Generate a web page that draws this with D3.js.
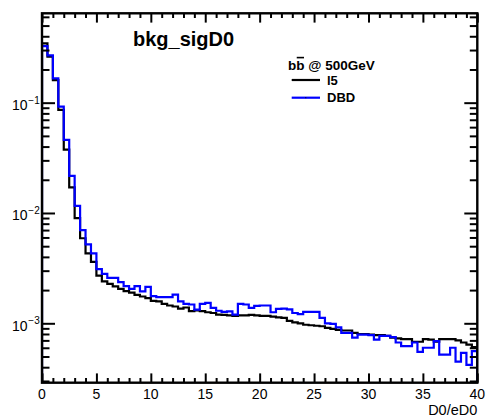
<!DOCTYPE html>
<html>
<head>
<meta charset="utf-8">
<script src="https://cdn.jsdelivr.net/npm/d3@7"></script>
<style>
  html, body { margin: 0; padding: 0; background: #ffffff; }
  svg { display: block; }
  text { font-family: "Liberation Sans", Arial, Helvetica, sans-serif; }
</style>
</head>
<body>
<svg id="chart" width="486" height="418"></svg>
<script>
// ---------------- data ----------------
const title = "bkg_sigD0";
const xTitle = "D0/eD0";
const legendHeader = "bb @ 500GeV";
const seriesNames = ["l5", "DBD"];
const seriesColors = ["#000000", "#0000ff"];
const xRange = [0, 40];
const binWidth = 0.5;
const xMajorTicks = [0, 5, 10, 15, 20, 25, 30, 35, 40];
const xTickLabels = ["0", "5", "10", "15", "20", "25", "30", "35", "40"];
const yMajorTicks = [1e-1, 1e-2, 1e-3];
const yTickExponents = ["\u22121", "\u22122", "\u22123"];

const valuesL5 = [
  0.345, 0.262, 0.160, 0.086, 0.0375, 0.0171, 0.0090, 0.0059, 0.0043, 0.0036,
  0.0027, 0.0024, 0.00228, 0.00216, 0.00205, 0.00196, 0.00190, 0.00181, 0.00175, 0.00169,
  0.00160, 0.00158, 0.00150, 0.00145, 0.00142, 0.00136, 0.00139, 0.00129, 0.00131, 0.00129,
  0.00126, 0.00124, 0.00120, 0.00119, 0.00118, 0.00117, 0.00118, 0.00118, 0.00119, 0.00118,
  0.00117, 0.00117, 0.00115, 0.00113, 0.00112, 0.00105, 0.00102, 0.00100, 0.00097, 0.00096,
  0.00095, 0.00094, 0.00091, 0.00089, 0.00087, 0.00086, 0.00086, 0.00082, 0.00080, 0.00080,
  0.00079, 0.00078, 0.00078, 0.00077, 0.00074, 0.00073, 0.00072, 0.00072, 0.00068, 0.00068,
  0.00072, 0.00071, 0.00068, 0.00072, 0.00072, 0.00072, 0.00070, 0.00067, 0.00064, 0.00061
];
const valuesDBD = [
  0.325, 0.268, 0.166, 0.092, 0.046, 0.0217, 0.0116, 0.0070, 0.0052, 0.0043,
  0.0031, 0.0028, 0.00258, 0.00258, 0.00236, 0.00217, 0.00205, 0.00217, 0.00195, 0.00214,
  0.00176, 0.00173, 0.00173, 0.00173, 0.00182, 0.00158, 0.00150, 0.00148, 0.00133, 0.00150,
  0.00153, 0.00138, 0.00130, 0.00127, 0.00128, 0.00120, 0.00150, 0.00148, 0.00138, 0.00144,
  0.00145, 0.00145, 0.00126, 0.00135, 0.00136, 0.00134, 0.00124, 0.00121, 0.00127, 0.00127,
  0.00127, 0.00112, 0.00100, 0.00099, 0.00092, 0.00082, 0.00082, 0.00074, 0.00079, 0.00079,
  0.00078, 0.00071, 0.00077, 0.00077, 0.00075, 0.00067, 0.00062, 0.00062, 0.00067, 0.00055,
  0.00060, 0.00060, 0.00069, 0.00052, 0.00052, 0.00060, 0.00045, 0.00054, 0.00042, 0.00056
];
const seriesValues = [valuesL5, valuesDBD];

// ---------------- layout ----------------
const frame = { left: 42, right: 477.3, top: 13.3, bottom: 382.7 };
const yDomain = [2.894e-4, 0.646];

const svg = d3.select("#chart");
svg.append("rect").attr("width", 486).attr("height", 418).attr("fill", "#ffffff");

const x = d3.scaleLinear().domain(xRange).range([frame.left, frame.right]);
const y = d3.scaleLog().domain(yDomain).range([frame.bottom, frame.top]);

// clip
svg.append("defs").append("clipPath").attr("id", "clip")
  .append("rect")
  .attr("x", frame.left).attr("y", frame.top)
  .attr("width", frame.right - frame.left).attr("height", frame.bottom - frame.top);

// histograms
const line = d3.line().x(d => x(d[0])).y(d => y(d[1]));
seriesValues.forEach((vals, s) => {
  const pts = [[xRange[0], yDomain[0]]];
  vals.forEach((v, i) => {
    const lo = xRange[0] + i * binWidth;
    pts.push([lo, v], [lo + binWidth, v]);
  });
  pts.push([xRange[0] + vals.length * binWidth, yDomain[0]]);
  svg.append("path")
    .attr("clip-path", "url(#clip)")
    .attr("d", line(pts))
    .attr("fill", "none")
    .attr("stroke", seriesColors[s])
    .attr("stroke-width", 2.2)
    .attr("stroke-linejoin", "miter");
});

// ---------------- axes ----------------
function styleAxis(g) {
  g.select(".domain").remove();
  g.selectAll(".tick line").attr("stroke", "#000").attr("stroke-width", 2);
  g.selectAll(".tick text").remove();
}
const xMinor = d3.range(xRange[0], xRange[1] + 0.001, 1).filter(v => v % 5 !== 0);
const yMinor = [];
[-4, -3, -2, -1].forEach(e => {
  for (let m = 2; m <= 9; m++) {
    const v = m * Math.pow(10, e);
    if (v > yDomain[0] && v < yDomain[1]) yMinor.push(v);
  }
});

// bottom
svg.append("g").attr("transform", `translate(0,${frame.bottom})`)
  .call(d3.axisBottom(x).tickValues(xMajorTicks).tickSize(-9.3)).call(styleAxis);
svg.append("g").attr("transform", `translate(0,${frame.bottom})`)
  .call(d3.axisBottom(x).tickValues(xMinor).tickSize(-4.7)).call(styleAxis);
// top
svg.append("g").attr("transform", `translate(0,${frame.top})`)
  .call(d3.axisTop(x).tickValues(xMajorTicks).tickSize(-9.3)).call(styleAxis);
svg.append("g").attr("transform", `translate(0,${frame.top})`)
  .call(d3.axisTop(x).tickValues(xMinor).tickSize(-4.7)).call(styleAxis);
// left
svg.append("g").attr("transform", `translate(${frame.left},0)`)
  .call(d3.axisLeft(y).tickValues(yMajorTicks).tickSize(-13)).call(styleAxis);
svg.append("g").attr("transform", `translate(${frame.left},0)`)
  .call(d3.axisLeft(y).tickValues(yMinor).tickSize(-7.5)).call(styleAxis);
// right
svg.append("g").attr("transform", `translate(${frame.right},0)`)
  .call(d3.axisRight(y).tickValues(yMajorTicks).tickSize(-13)).call(styleAxis);
svg.append("g").attr("transform", `translate(${frame.right},0)`)
  .call(d3.axisRight(y).tickValues(yMinor).tickSize(-7.5)).call(styleAxis);

// frame
svg.append("rect")
  .attr("x", frame.left).attr("y", frame.top)
  .attr("width", frame.right - frame.left).attr("height", frame.bottom - frame.top)
  .attr("fill", "none").attr("stroke", "#000").attr("stroke-width", 2.4);

// x labels
svg.append("g").selectAll("text").data(xMajorTicks).join("text")
  .attr("x", d => x(d)).attr("y", 398.5)
  .attr("text-anchor", "middle").attr("font-size", 14).attr("fill", "#000")
  .text((d, i) => xTickLabels[i]);

// y labels
const yl = svg.append("g");
yMajorTicks.forEach((v, i) => {
  yl.append("text").attr("x", 27.5).attr("y", y(v) + 7.5)
    .attr("text-anchor", "end").attr("font-size", 14).text("10");
  yl.append("text").attr("x", 28.3).attr("y", y(v) + 1)
    .attr("text-anchor", "start").attr("font-size", 10).text(yTickExponents[i]);
});

// x title
svg.append("text").attr("x", 477.3).attr("y", 415)
  .attr("text-anchor", "end").attr("font-size", 14.5).text(xTitle);

// title
svg.append("text").attr("x", 133).attr("y", 45.5)
  .attr("font-size", 20).attr("font-weight", "bold").text(title);

// legend
const lg = svg.append("g");
const hdr = lg.append("text").attr("x", 288).attr("y", 70)
  .attr("font-size", 13.5).attr("font-weight", "bold").text(legendHeader);
const hn = hdr.node();
const b2x = hn.getStartPositionOfChar(1).x;
const b2w = hn.getSubStringLength(1, 1);
lg.append("line")
  .attr("x1", b2x + 0.5).attr("x2", b2x + b2w - 0.5)
  .attr("y1", 57.6).attr("y2", 57.6)
  .attr("stroke", "#000").attr("stroke-width", 1.6);

const legY = [80, 97.7];
seriesNames.forEach((name, i) => {
  lg.append("line")
    .attr("x1", 291.7).attr("x2", 320).attr("y1", legY[i]).attr("y2", legY[i])
    .attr("stroke", seriesColors[i]).attr("stroke-width", 2.2);
  lg.append("text").attr("x", 327).attr("y", legY[i] + 4.6)
    .attr("font-size", 13).attr("font-weight", "bold").text(name);
});
lg.append("rect").attr("x", 305.3).attr("y", legY[1] - 0.5).attr("width", 1).attr("height", 1).attr("fill", "#000");
</script>
</body>
</html>
